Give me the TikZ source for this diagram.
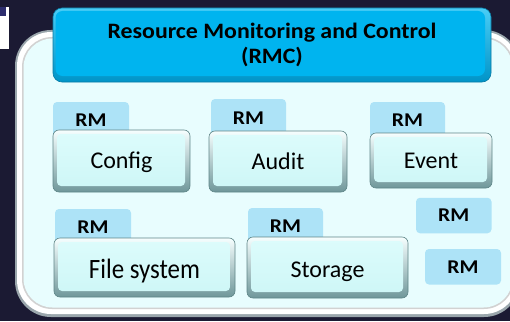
\documentclass[tikz,border=0pt]{standalone}
\usepackage{fontspec}
\setmainfont{Carlito}
\newfontfamily\titlefont[FakeStretch=1.085]{Carlito}
\newfontfamily\tabfont[FakeStretch=1.11]{Carlito}
\newfontfamily\narrowfont[FakeStretch=0.89]{Carlito}
\definecolor{bgnavy}{HTML}{1B1A33}
\definecolor{fragblue}{HTML}{2D2D6E}
\definecolor{rimgray}{HTML}{9AA6AC}
\definecolor{panelface}{HTML}{E8FDFE}
\definecolor{rmcface}{HTML}{00B4EF}
\definecolor{rmcside}{HTML}{0094C8}
\definecolor{rmcline}{HTML}{087AA3}
\definecolor{rmchi}{HTML}{49CDF6}
\definecolor{tabblue}{HTML}{ADE3F7}
\definecolor{boxfacetop}{HTML}{DDFCFC}
\definecolor{boxfacebot}{HTML}{CDF6F6}
\definecolor{boxhi}{HTML}{F6FFFF}
\definecolor{boxrim}{HTML}{6F979A}
\definecolor{boxline}{HTML}{5E8587}
\begin{document}
\begin{tikzpicture}[x=1pt,y=-1pt,
  rmcbox/.style={rounded corners=9pt, draw=rmcline, line width=0.6pt,
    top color=rmchi, bottom color=rmcside, inner sep=0pt, outer sep=0pt,
    align=center, font=\titlefont\fontsize{22}{25}\selectfont\bfseries,
    path picture={\fill[rmcface, rounded corners=7pt]
      ([shift={(2.5pt,-3pt)}]path picture bounding box.north west) rectangle
      ([shift={(-6pt,6pt)}]path picture bounding box.south east);}},
  tab/.style={fill=tabblue, rounded corners=4pt, inner sep=0pt, outer sep=0pt,
    font=\tabfont\fontsize{19.5}{22}\selectfont\bfseries, text height=12.5pt, text depth=0pt},
  modbox/.style={rounded corners=6pt, draw=boxline, line width=0.6pt,
    top color=boxhi, bottom color=boxrim, inner sep=0pt, outer sep=0pt,
    font=\fontsize{24}{28}\selectfont, text height=15.2pt, text depth=0pt,
    path picture={\shade[top color=boxfacetop, bottom color=boxfacebot, rounded corners=4pt]
      ([shift={(4pt,-4pt)}]path picture bounding box.north west) rectangle
      ([shift={(-5pt,6pt)}]path picture bounding box.south east);}}]
\useasboundingbox (0,0) rectangle (510,321);
\fill[bgnavy] (0,0) rectangle (510,321);

% small window fragment in the corner
\fill[white] (0,7) rectangle (8.5,49);
\fill[fragblue] (0,7.5) rectangle (6,16.5);

% outer panel with its white rim
\begin{scope}
  \clip (0,0) rectangle (510,321);
  \fill[rimgray, rounded corners=36pt] (15,30) rectangle (520,317);
  \fill[white, rounded corners=34pt] (17,32) rectangle (518,314);
  \fill[gray!35, rounded corners=30pt] (22,37) rectangle (514,309);
  \fill[panelface, rounded corners=29pt] (23.5,38.5) rectangle (512.5,307.5);
\end{scope}

% title block
\node[rmcbox, minimum width=438pt, minimum height=74pt] (rmc) at (272,45)
  {\raisebox{-2pt}{Resource Monitoring and Control}\\\raisebox{-2pt}{(RMC)}};

% RM tabs standing behind the component boxes
\node[tab, minimum width=76pt, minimum height=36pt] (rmconfig)  at (91,120)    {RM};
\node[tab, minimum width=75pt, minimum height=39pt] (rmaudit)   at (248.5,118.5) {RM};
\node[tab, minimum width=75pt, minimum height=36pt] (rmevent)   at (407.5,120) {RM};
\node[tab, minimum width=76pt, minimum height=37pt] (rmfile)    at (93,227.5)  {RM};
\node[tab, minimum width=75pt, minimum height=37pt] (rmstorage) at (285.5,226.5) {RM};

% free-standing RM blocks
\node[tab, minimum width=75.5pt, minimum height=35.5pt] (rmfree1) at (453.75,215.5) {RM};
\node[tab, minimum width=76pt, minimum height=35.5pt]   (rmfree2) at (463,266.75) {RM};

% component boxes
\node[modbox, minimum width=137pt, minimum height=62pt] (config)  at (121.5,161)   {Config};
\node[modbox, minimum width=138pt, minimum height=61pt] (audit)   at (278,161.5)   {Audit};
\node[modbox, minimum width=122pt, minimum height=55pt] (event)   at (431,160.5)   {Event};
\node[modbox, minimum width=181pt, minimum height=59pt, text height=21.5pt,
  font=\narrowfont\fontsize{28}{32}\selectfont] (files) at (144.5,267.5) {File system};
\node[modbox, minimum width=161pt, minimum height=61pt, text height=19.2pt] (storage) at (327.5,267.5) {Storage};
\end{tikzpicture}
\end{document}
